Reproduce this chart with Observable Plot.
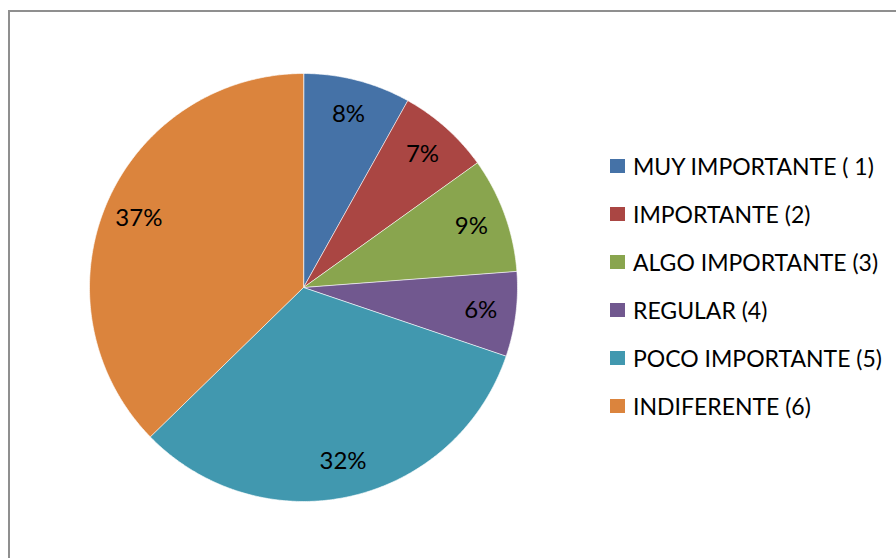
<!DOCTYPE html>
<html><head><meta charset="utf-8">
<script src="https://cdn.jsdelivr.net/npm/d3@7"></script>
<script src="https://cdn.jsdelivr.net/npm/@observablehq/plot@0.6"></script>
<style>
body{margin:0;background:#fff;}
#wrap{position:relative;width:896px;height:558px;overflow:hidden;font-family:Lato, "Open Sans", sans-serif;background:#fff;}
#frame{position:absolute;left:8px;top:10px;width:1000px;height:1000px;border-left:2px solid #8f8f8f;border-top:2px solid #8f8f8f;}
#chart{position:absolute;left:0;top:0;}
#legend{position:absolute;left:610px;top:142px;}
.item{display:flex;align-items:center;height:48px;font-size:23px;color:#000;white-space:nowrap;}
.sw{width:15px;height:14px;margin-right:8px;flex:none;}
</style></head><body>
<div id="wrap"><div id="frame"></div><div id="chart"></div><div id="legend"></div></div>
<script>
const categories = ["MUY IMPORTANTE ( 1)", "IMPORTANTE (2)", "ALGO IMPORTANTE (3)", "REGULAR (4)", "POCO IMPORTANTE (5)", "INDIFERENTE (6)"];
const values = [8.1, 7.0, 8.7, 6.4, 32.5, 37.3];
const pctLabels = ["8%", "7%", "9%", "6%", "32%", "37%"];
const colors = ["#4572A7", "#AA4643", "#89A54E", "#71588F", "#4198AF", "#DB843D"];

const W = 896, H = 558, cx = 303, cy = 287, R = 214;
const total = d3.sum(values);
let acc = 0;
const slices = values.map((v, i) => {
  const a0 = acc / total * 2 * Math.PI;
  acc += v;
  const a1 = acc / total * 2 * Math.PI;
  return {cat: categories[i], label: pctLabels[i], a0, a1};
});
const pts = [];
for (const s of slices) {
  pts.push({cat: s.cat, x: 0, y: 0});
  const n = Math.max(2, Math.ceil((s.a1 - s.a0) / (Math.PI / 360)));
  for (let k = 0; k <= n; k++) {
    const a = s.a0 + (s.a1 - s.a0) * k / n;
    pts.push({cat: s.cat, x: Math.sin(a), y: Math.cos(a)});
  }
}
const labelPts = slices.map(s => {
  const m = (s.a0 + s.a1) / 2;
  return {label: s.label, x: 0.835 * Math.sin(m), y: 0.835 * Math.cos(m)};
});

const chart = Plot.plot({
  width: W, height: H,
  margin: 0,
  style: {background: "transparent"},
  x: {domain: [-cx / R, (W - cx) / R], axis: null},
  y: {domain: [-(H - cy) / R, cy / R], axis: null},
  color: {type: "ordinal", domain: categories, range: colors},
  marks: [
    Plot.line(pts, {x: "x", y: "y", z: "cat", fill: "cat", stroke: "#ffffff", strokeWidth: 0.8, strokeOpacity: 0.8, curve: "linear-closed"}),
    Plot.text(labelPts, {x: "x", y: "y", text: "label", fontSize: 24, fill: "#000", fontFamily: "Lato, 'Open Sans', sans-serif"})
  ]
});
document.getElementById("chart").appendChild(chart);

const legend = document.getElementById("legend");
categories.forEach((c, i) => {
  const it = document.createElement("div");
  it.className = "item";
  const sw = document.createElement("div");
  sw.className = "sw";
  sw.style.background = colors[i];
  const t = document.createElement("span");
  t.textContent = c;
  it.appendChild(sw); it.appendChild(t);
  legend.appendChild(it);
});
</script>
</body></html>
